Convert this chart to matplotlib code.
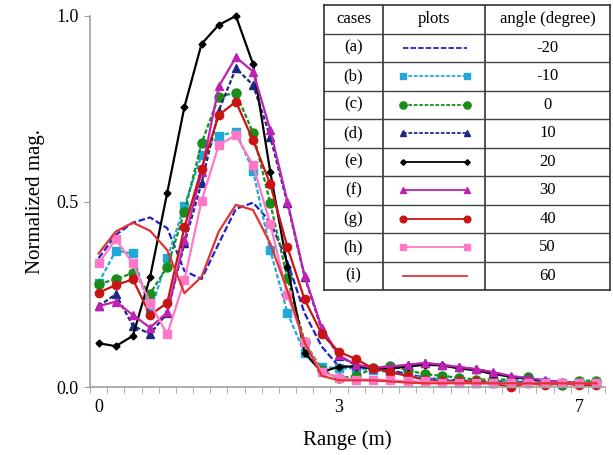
import matplotlib.pyplot as plt
import numpy as np

plt.rcParams['font.family'] = ['Liberation Serif', 'DejaVu Serif']

# range samples (category axis, labels shown at 0, 14, 28)
n_pts = 30
tick_pos = [0, 14, 28]
tick_lab = ['0', '3', '7']

cases = ['(a)', '(b)', '(c)', '(d)', '(e)', '(f)', '(g)', '(h)', '(i)']
angles = ['-20', '-10', '0', '10', '20', '30', '40', '50', '60']

a_m20 = [0.347, 0.41, 0.443, 0.457, 0.428, 0.313, 0.291, 0.387, 0.48, 0.497,
         0.445, 0.338, 0.199, 0.109, 0.055, 0.055, 0.05, 0.045, 0.035, 0.025,
         0.02, 0.018, 0.015, 0.015, 0.015, 0.012, 0.012, 0.01, 0.01, 0.01]
b_m10 = [0.281, 0.367, 0.36, 0.2, 0.347, 0.488, 0.625, 0.677, 0.688, 0.583,
         0.369, 0.2, 0.091, 0.055, 0.05, 0.05, 0.045, 0.04, 0.03, 0.025,
         0.02, 0.015, 0.012, 0.012, 0.015, 0.018, 0.014, 0.012, 0.013, 0.013]
c_0 = [0.278, 0.29, 0.308, 0.252, 0.323, 0.472, 0.657, 0.783, 0.793, 0.685,
       0.495, 0.293, 0.122, 0.046, 0.023, 0.03, 0.05, 0.057, 0.045, 0.035,
       0.03, 0.025, 0.02, 0.02, 0.02, 0.026, 0.012, 0.005, 0.017, 0.017]
d_10 = [0.218, 0.25, 0.165, 0.143, 0.199, 0.387, 0.55, 0.745, 0.859, 0.814,
        0.675, 0.495, 0.297, 0.155, 0.083, 0.059, 0.05, 0.053, 0.059, 0.064,
        0.059, 0.053, 0.048, 0.039, 0.028, 0.023, 0.017, 0.012, 0.01, 0.01]
e_20 = [0.118, 0.11, 0.138, 0.296, 0.524, 0.755, 0.925, 0.976, 1.0, 0.87,
        0.58, 0.324, 0.092, 0.04, 0.055, 0.055, 0.05, 0.05, 0.055, 0.06,
        0.058, 0.05, 0.045, 0.035, 0.028, 0.022, 0.017, 0.012, 0.01, 0.01]
f_30 = [0.218, 0.23, 0.194, 0.16, 0.201, 0.395, 0.58, 0.81, 0.889, 0.85,
        0.693, 0.5, 0.3, 0.16, 0.085, 0.06, 0.052, 0.055, 0.06, 0.065,
        0.06, 0.054, 0.048, 0.04, 0.03, 0.024, 0.018, 0.013, 0.011, 0.01]
g_40 = [0.254, 0.275, 0.29, 0.194, 0.227, 0.43, 0.588, 0.733, 0.769, 0.665,
        0.547, 0.377, 0.236, 0.143, 0.095, 0.075, 0.05, 0.04, 0.03, 0.02,
        0.015, 0.015, 0.015, 0.01, 0.0, 0.01, 0.005, 0.01, 0.005, 0.005]
h_50 = [0.333, 0.398, 0.333, 0.226, 0.142, 0.288, 0.502, 0.652, 0.679, 0.598,
        0.44, 0.248, 0.12, 0.04, 0.025, 0.02, 0.02, 0.018, 0.015, 0.015,
        0.012, 0.012, 0.01, 0.01, 0.01, 0.01, 0.01, 0.01, 0.01, 0.01]
i_60 = [0.36, 0.419, 0.443, 0.421, 0.369, 0.253, 0.297, 0.419, 0.491, 0.477,
        0.387, 0.26, 0.12, 0.03, 0.018, 0.018, 0.018, 0.015, 0.012, 0.01,
        0.01, 0.01, 0.01, 0.01, 0.01, 0.01, 0.01, 0.01, 0.01, 0.01]

series = [a_m20, b_m10, c_0, d_10, e_20, f_30, g_40, h_50, i_60]

dot = (2.0, 1.0)
styles = [
    dict(color='#2020d0', dashes=(3.0, 1.2), marker=None),
    dict(color='#20a8d8', dashes=dot, marker='s', ms=6),
    dict(color='#1a8c1a', dashes=dot, marker='o', ms=6.5),
    dict(color='#1a2a80', dashes=dot, marker='^', ms=6),
    dict(color='black', marker='D', ms=3.5),
    dict(color='#c020b4', marker='^', ms=6),
    dict(color='#c81414', marker='o', ms=6),
    dict(color='#ff78c8', marker='s', ms=6),
    dict(color='#e03434', marker=None),
]

fig = plt.figure(figsize=(6.13, 4.55), dpi=100)
ax = fig.add_axes([90 / 613, 1 - 387 / 455, 515 / 613, 371 / 455])

x = np.arange(n_pts)
for vals, st in zip(series, styles):
    st = dict(st)
    ms = st.pop('ms', 6)
    dashes = st.pop('dashes', None)
    ln, = ax.plot(x, vals, lw=1.6, markersize=ms, clip_on=False, **st)
    if dashes:
        ln.set_dashes(dashes)

ax.set_xlim(-0.5, n_pts - 0.5)
ax.set_ylim(0, 1.0)
ax.set_xticks(tick_pos)
ax.set_xticklabels(tick_lab)
ax.set_xticks(np.arange(n_pts + 1) - 0.5, minor=True)
ax.set_yticks([0, 0.5, 1.0])
ax.set_yticklabels(['0.0', '0.5', '1.0'])
ax.tick_params(axis='x', which='major', length=0, pad=9, labelsize=13)
ax.tick_params(axis='x', which='minor', length=4, color='#a0a0a0', direction='out')
ax.tick_params(axis='y', length=4, color='#a0a0a0', labelsize=13, pad=4)

for s in ['top', 'right']:
    ax.spines[s].set_visible(False)
for s in ['left', 'bottom']:
    ax.spines[s].set_color('#a0a0a0')
    ax.spines[s].set_linewidth(1.2)

ax.set_xlabel('Range (m)', fontsize=15, labelpad=10)
ax.set_ylabel('Normalized mag.', fontsize=15, labelpad=8)

# table drawn on top of the plot
tx0, tx1 = 324 / 613, 610 / 613
ty0, ty1 = 1 - 290 / 455, 1 - 5 / 455
tab = fig.add_axes([tx0, ty0, tx1 - tx0, ty1 - ty0], zorder=5)
tab.set_facecolor('white')
tab.set_xlim(0, 286)
tab.set_ylim(10, 0)
tab.set_xticks([])
tab.set_yticks([])
for s in tab.spines.values():
    s.set_linewidth(1.2)
    s.set_color('#333333')
col_edges = [0, 59, 161, 286]
for cx in col_edges[1:-1]:
    tab.axvline(cx, color='#333333', lw=1.2)
for r in range(1, 10):
    tab.axhline(r, color='#444444', lw=1.0)

hdr = ['cases', 'plots', 'angle (degree)']
for k, h in enumerate(hdr):
    tab.text((col_edges[k] + col_edges[k + 1]) / 2, 0.5, h, ha='center',
             va='center', fontsize=12)
for r, (c, ang, st) in enumerate(zip(cases, angles, styles)):
    yy = r + 1.5
    tab.text(29.5, yy, c, ha='center', va='center', fontsize=12)
    tab.text(223.5, yy, ang, ha='center', va='center', fontsize=12)
    st = dict(st)
    ms = st.pop('ms', 6)
    dashes = st.pop('dashes', None)
    ln, = tab.plot([79, 143], [yy, yy], lw=1.3, markersize=ms * 0.8,
                   markevery=[0, 1], **st)
    if dashes:
        ln.set_dashes(dashes)

fig.savefig('out.png', dpi=100)
